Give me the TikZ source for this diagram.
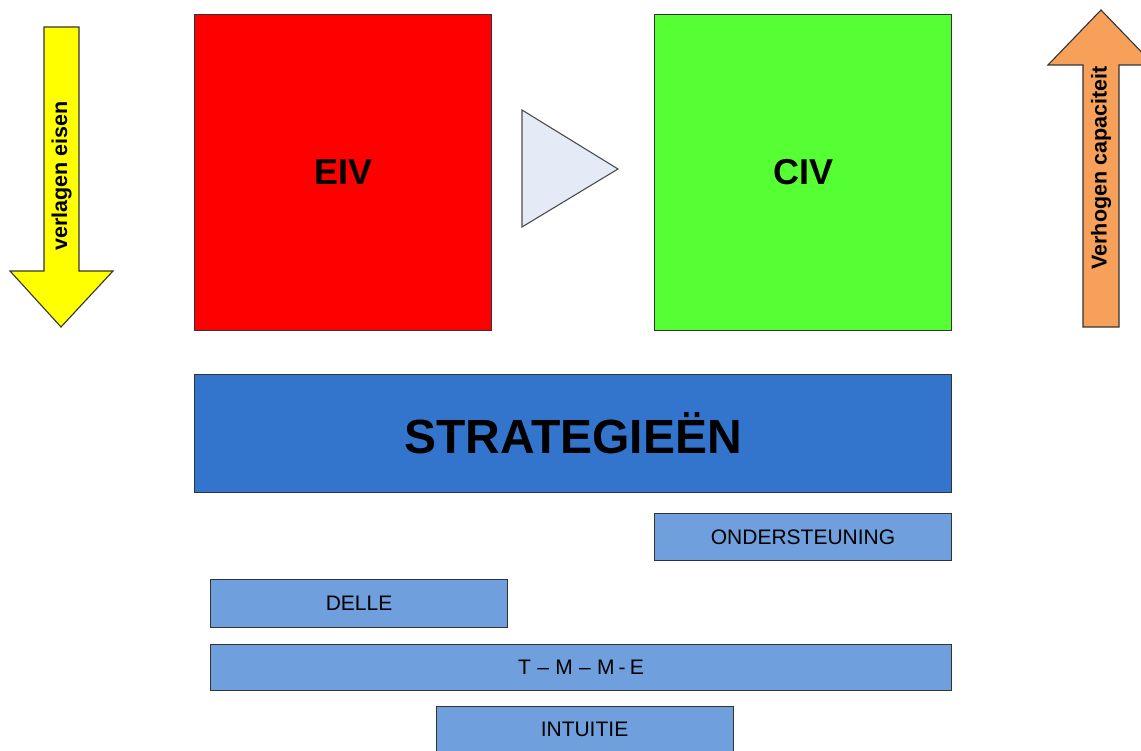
\documentclass[tikz,border=0pt]{standalone}
\usepackage{fontspec}
\setmainfont{Liberation Sans}
\begin{document}
\begin{tikzpicture}[x=1pt,y=-1pt,
  edge/.style={draw=black!80,line width=1.1pt},
  bar/.style={edge,fill=barblue,anchor=north west,inner sep=0pt},
  small/.style={font=\fontsize{21}{25}\selectfont},
]
\definecolor{eivred}{HTML}{FF0000}
\definecolor{civgreen}{HTML}{55FF33}
\definecolor{stratblue}{HTML}{3375CC}
\definecolor{barblue}{HTML}{6F9FDC}
\definecolor{tri}{HTML}{E4EAF6}
\definecolor{arrowyellow}{HTML}{FFFF00}
\definecolor{arroworange}{HTML}{F6A05A}
\useasboundingbox (0,0) rectangle (1141,751);
\clip (0,0) rectangle (1141,751);

% yellow arrow
\draw[edge,fill=arrowyellow] (44,27) -- (79,27) -- (79,271) -- (113,271) -- (61,327) -- (10,271) -- (44,271) -- cycle;
\node[rotate=90,font=\bfseries\fontsize{21.5}{24}\selectfont] (verl) at (61.5,176) {verlagen eisen};

% orange arrow
\draw[edge,fill=arroworange] (1083,327) -- (1119,327) -- (1119,65) -- (1154,65) -- (1101,10) -- (1048,65) -- (1083,65) -- cycle;
\node[rotate=90,font=\bfseries\fontsize{21.5}{24}\selectfont] (verh) at (1101,168) {Verhogen capaciteit};

% EIV / CIV
\node[edge,fill=eivred,anchor=north west,minimum width=297pt,minimum height=316pt,inner sep=0pt,font=\bfseries\fontsize{36}{40}\selectfont] (eiv) at (194,14) {EIV};
\node[edge,fill=civgreen,anchor=north west,minimum width=297pt,minimum height=316pt,inner sep=0pt,font=\bfseries\fontsize{36}{40}\selectfont] (civ) at (654,14) {CIV};

% triangle
\draw[draw=black!70,line width=1.1pt,fill=tri] (522,110) -- (618,169) -- (522,227) -- cycle;

% strategieen
\node[edge,fill=stratblue,anchor=north west,minimum width=757pt,minimum height=118pt,inner sep=0pt,font=\bfseries\fontsize{48}{52}\selectfont] (strat) at (194,374) {STRATEGIEËN};

% bars
\node[bar,small,minimum width=297pt,minimum height=47pt] (onder) at (654,513) {ONDERSTEUNING};
\node[bar,small,minimum width=297pt,minimum height=48pt] (delle) at (210,579) {DELLE};
\node[bar,small,minimum width=741pt,minimum height=46pt] (tmme) at (210,644) {T\hspace{0.3em}–\hspace{0.3em}M\hspace{0.3em}–\hspace{0.3em}M\hspace{0.2em}-\hspace{0.2em}E};
\node[bar,minimum width=297pt,minimum height=60pt] (intu) at (436,706) {};
\node[small] (intut) at (584.5,729) {INTUITIE};
\end{tikzpicture}
\end{document}
